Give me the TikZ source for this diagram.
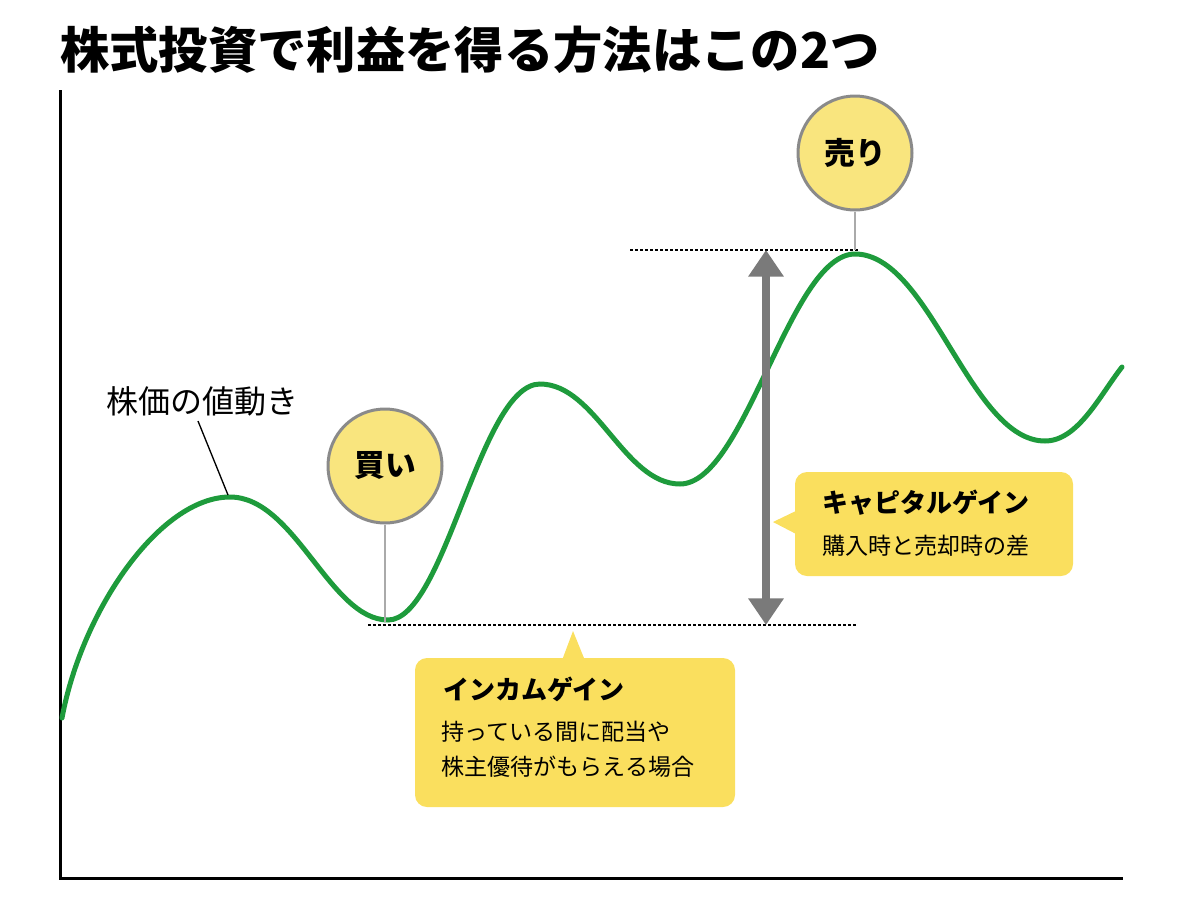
\documentclass[tikz,border=0pt]{standalone}
\usepackage{fontspec}
\newfontfamily\jp{Noto Sans CJK JP}
\usetikzlibrary{arrows.meta}
\definecolor{curvegreen}{HTML}{1E9B3C}
\definecolor{circfill}{HTML}{F9E57E}
\definecolor{circline}{HTML}{8A8A8A}
\definecolor{callfill}{HTML}{FADF5E}
\definecolor{arrgray}{HTML}{7A7A7A}
\definecolor{stemgray}{HTML}{AAAAAA}
\tikzset{
  axisline/.style={line width=2.25pt, black},
  pricecurve/.style={line width=3.75pt, curvegreen, line cap=round},
  bubble/.style={circle, draw=circline, line width=2.25pt, fill=circfill, minimum size=85.5pt, inner sep=0pt, font=\jp\bfseries\fontsize{23pt}{27pt}\selectfont},
  stem/.style={stemgray, line width=1.2pt},
  dotline/.style={black, line width=0.9pt, dash pattern=on 2.25pt off 1.5pt},
  callout/.style={fill=callfill, rounded corners=9pt, inner sep=0pt},
  ctitle/.style={anchor=west, inner sep=0pt, font=\jp\bfseries\fontsize{19.5pt}{24pt}\selectfont},
  cbody/.style={anchor=west, inner sep=0pt, font=\jp\fontsize{17.3pt}{22pt}\selectfont},
  gainarrow/.style={arrgray, line width=6pt, {Triangle[width=25.5pt,length=20pt]}-{Triangle[width=25.5pt,length=20pt]}},
}
\begin{document}
\begin{tikzpicture}[x=0.75pt,y=-0.75pt]
\useasboundingbox (0,0) rectangle (1200,900);
% title
\node[anchor=west, inner sep=0pt, font=\jp\bfseries\fontsize{37pt}{41pt}\selectfont] (title) at (60,50) {株式投資で利益を得る方法はこの2つ};
% axes
\coordinate (ytop) at (60,90);
\coordinate (origin) at (60,878);
\coordinate (xend) at (1123,878);
\draw[axisline] (ytop) -- (origin) -- (xend);
% curve points
\coordinate (c0) at (62,718);
\coordinate (p1) at (230,497);
\coordinate (buy) at (388,620);
\coordinate (p2) at (540,384);
\coordinate (t2) at (680,484);
\coordinate (sell) at (855,254);
\coordinate (t3) at (1045,441);
\coordinate (cend) at (1122,367);
% dashed reference lines
\coordinate (dl1) at (630,250);
\coordinate (dl2) at (858,250);
\coordinate (dm1) at (368,625);
\coordinate (dm2) at (858,625);
\draw[dotline] (dl1) -- (dl2);
\draw[dotline] (dm1) -- (dm2);
% price curve
\draw[pricecurve] (c0) .. controls (82,610) and (160,497) .. (p1)
  .. controls (295,497) and (330,620) .. (buy)
  .. controls (445,620) and (480,384) .. (p2)
  .. controls (596,384) and (624,484) .. (t2)
  .. controls (745,484) and (790,254) .. (sell)
  .. controls (930,254) and (970,441) .. (t3)
  .. controls (1078,441) and (1100,395) .. (cend);
% label for curve
\node[anchor=west, inner sep=0pt, font=\jp\fontsize{24pt}{28pt}\selectfont] (lbl) at (106,401) {株価の値動き};
\coordinate (lblend) at (228,495);
\draw[black, line width=1pt] (198,421) -- (lblend);
% arrow
\coordinate (atop) at (766,250);
\coordinate (abot) at (766,625);
\draw[gainarrow] (abot) -- (atop);
% bubbles
\node[bubble] (kai) at (385,466) {買い};
\coordinate (kaifoot) at (385,622);
\draw[stem] (kai.south) -- (kaifoot);
\node[bubble] (uri) at (855,153) {売り};
\coordinate (urifoot) at (855,250);
\draw[stem] (uri.south) -- (urifoot);
% capital gain callout
\node[callout, minimum width=208.5pt, minimum height=78pt] (cap) at (934,524) {};
\coordinate (captip) at (773,522);
\fill[callfill] (captip) -- (800,509) -- (800,536) -- cycle;
\node[ctitle] (capt) at (822,503) {キャピタルゲイン};
\node[cbody] (capb) at (822,546) {購入時と売却時の差};
% income gain callout
\node[callout, minimum width=240pt, minimum height=111.75pt] (inc) at (575,732.5) {};
\coordinate (inctip) at (573,631);
\fill[callfill] (inctip) -- (561,663) -- (586,663) -- cycle;
\node[ctitle] (inct) at (443,689) {インカムゲイン};
\node[cbody] (incb1) at (441,732) {持っている間に配当や};
\node[cbody] (incb2) at (441,767) {株主優待がもらえる場合};
\end{tikzpicture}
\end{document}
